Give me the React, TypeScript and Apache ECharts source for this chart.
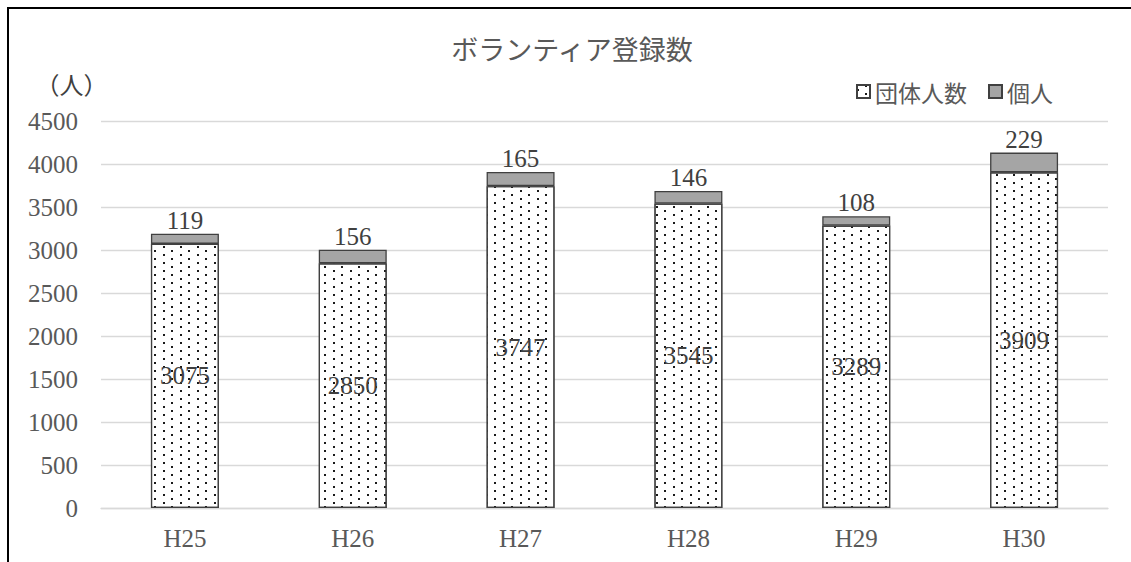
import React, { useEffect, useRef } from "react";
import * as echarts from "echarts";

const categories = ["H25", "H26", "H27", "H28", "H29", "H30"];
const groupValues = [3075, 2850, 3747, 3545, 3289, 3909];
const individualValues = [119, 156, 165, 146, 108, 229];
const seriesNames = ["団体人数", "個人"];
const titleText = "ボランティア登録数";
const unitText = "（人）";

const NUM_FONT = "'Liberation Serif', 'Times New Roman', serif";
const JP_FONT = "'Noto Sans CJK JP', 'Noto Sans', sans-serif";

export default function App() {
  const ref = useRef<HTMLDivElement>(null);
  useEffect(() => {
    if (!ref.current) return;
    const chart = echarts.init(ref.current, undefined, { renderer: "svg" });
    chart.setOption({
      animation: false,
      backgroundColor: "#fff",
      legend: {
        left: 841,
        top: 65,
        icon: "rect",
        itemWidth: 13,
        itemHeight: 13,
        itemGap: 21,
        textStyle: { fontFamily: JP_FONT, fontSize: 23, color: "#595959" },
        data: seriesNames,
      },
      graphic: [
        {
          type: "text",
          x: 562,
          y: 38,
          style: {
            text: titleText,
            font: `27px ${JP_FONT}`,
            fill: "#595959",
            textAlign: "center",
            textVerticalAlign: "middle",
          },
        },
        {
          type: "text",
          x: 61.5,
          y: 73,
          style: {
            text: unitText,
            font: `24px ${JP_FONT}`,
            fill: "#404040",
            textAlign: "center",
            textVerticalAlign: "middle",
          },
        },
      ],
      grid: { left: 91, right: 23, top: 111.5, bottom: 54 },
      xAxis: {
        type: "category",
        data: categories,
        axisLine: { show: true, lineStyle: { color: "#d9d9d9", width: 1.3 } },
        axisTick: { show: false },
        axisLabel: { margin: 18, fontFamily: NUM_FONT, fontSize: 25, color: "#595959" },
      },
      yAxis: {
        type: "value",
        min: 0,
        max: 4500,
        interval: 500,
        axisLine: { show: false },
        axisTick: { show: false },
        splitLine: { lineStyle: { color: "#d9d9d9", width: 1.3 } },
        axisLabel: {
          margin: 23,
          fontFamily: NUM_FONT,
          fontSize: 25,
          color: "#595959",
          formatter: (v: number) => String(v),
        },
      },
      series: [
        {
          name: seriesNames[0],
          type: "bar",
          stack: "total",
          barWidth: "40.5%",
          data: groupValues,
          itemStyle: {
            color: "#ffffff",
            borderColor: "#404040",
            borderWidth: 1.2,
            decal: {
              symbol: "rect",
              symbolSize: 1,
              color: "#1a1a1a",
              backgroundColor: "#ffffff",
              dashArrayX: [[2, 15], [0, 8, 2, 7]],
              dashArrayY: [2, 2],
            },
          },
          label: {
            show: true,
            position: "inside",
            fontFamily: NUM_FONT,
            fontSize: 25,
            color: "#404040",
          },
        },
        {
          name: seriesNames[1],
          type: "bar",
          stack: "total",
          barWidth: "40.5%",
          data: individualValues,
          itemStyle: { color: "#a5a5a5", borderColor: "#404040", borderWidth: 1.3 },
          label: {
            show: true,
            position: "top",
            distance: 1,
            fontFamily: NUM_FONT,
            fontSize: 25,
            color: "#404040",
          },
        },
      ],
    });
    return () => chart.dispose();
  }, []);
  return (
    <div
      style={{
        position: "fixed",
        left: 7,
        top: 7,
        width: 1200,
        height: 600,
        borderTop: "2px solid #000",
        borderLeft: "2px solid #000",
        background: "#fff",
        overflow: "hidden",
      }}
    >
      <div ref={ref} style={{ width: 1121, height: 552, marginLeft: 1, marginTop: 1 }} />
    </div>
  );
}
